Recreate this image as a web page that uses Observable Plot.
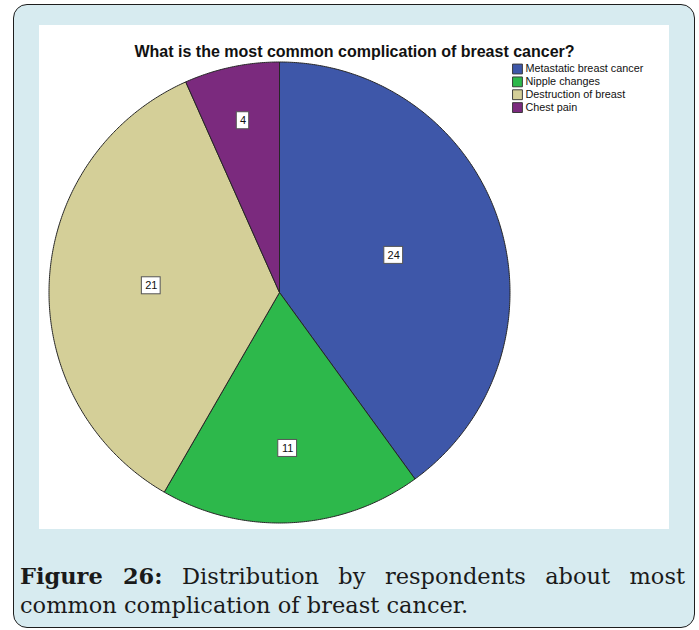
<!DOCTYPE html>
<html>
<head>
<meta charset="utf-8">
<script src="https://cdn.jsdelivr.net/npm/d3@7"></script>
<script src="https://cdn.jsdelivr.net/npm/@observablehq/plot@0.6"></script>
<style>
  html, body { margin: 0; padding: 0; background: #fff; }
  #frame {
    position: absolute; left: 13px; top: 4px; width: 680px; height: 622px;
    border: 1.5px solid #1e1e1e; border-radius: 14px; background: #d7ebf0;
  }
  #panel { position: absolute; left: 39px; top: 25px; width: 630px; height: 504px; background: #fff; }
  #chart { position: absolute; left: 0; top: 0; }
  #legend { position: absolute; left: 470px; top: 36px; }
  #caption {
    position: absolute; left: 20px; top: 562px; width: 665px;
    font-family: "DejaVu Serif", serif; font-size: 22.5px; line-height: 29px;
    text-align: justify; color: #1a1a1a;
  }
</style>
</head>
<body>
<div id="frame"></div>
<div id="panel"><div id="chart"></div><div id="legend"></div></div>
<div id="caption"><b>Figure 26:</b> Distribution by respondents about most common complication of breast cancer.</div>
<script>
// Survey answers: most common complication of breast cancer
const title = "What is the most common complication of breast cancer?";
const categories = ["Metastatic breast cancer", "Nipple changes", "Destruction of breast", "Chest pain"];
const counts = [24, 11, 21, 4];
const colors = ["#3e57a9", "#2db84b", "#d4cf98", "#7b2a7e"];

const rows = categories.map((cat, i) => ({cat, count: counts[i]}));

// Pie geometry in unit coordinates (radius 1, y pointing up), clockwise from 12 o'clock
const arcs = d3.pie().sort(null).value(d => d.count)(rows);
const step = Math.PI / 360;
const outline = arcs.flatMap(a => {
  const cat = a.data.cat;
  const pts = [{cat, x: 0, y: 0}];
  for (let t = a.startAngle; t < a.endAngle; t += step) pts.push({cat, x: Math.sin(t), y: Math.cos(t)});
  pts.push({cat, x: Math.sin(a.endAngle), y: Math.cos(a.endAngle)});
  pts.push({cat, x: 0, y: 0});
  return pts;
});

// Value labels: narrower slices get their label pushed further out
const R = 230.5, cx = 240, cy = 267;
const labels = arcs.map(a => {
  const half = (a.endAngle - a.startAngle) / 2;
  const mid = a.startAngle + half;
  const r = 0.81 - 0.23 * half;
  const text = String(a.data.count);
  const hw = (3 + 3.2 * text.length) / R, hh = 8.5 / R;
  const x = r * Math.sin(mid), y = r * Math.cos(mid);
  return {text, x, y, x1: x - hw, x2: x + hw, y1: y - hh, y2: y + hh};
});

const chart = Plot.plot({
  width: 630, height: 504, margin: 0,
  style: {fontFamily: "'Liberation Sans', Arial, sans-serif", background: "transparent", color: "#111"},
  x: {domain: [-1, 1], range: [cx - R, cx + R], axis: null},
  y: {domain: [-1, 1], range: [cy + R, cy - R], axis: null},
  color: {domain: categories, range: colors},
  marks: [
    Plot.line(outline, {x: "x", y: "y", z: "cat", fill: "cat", stroke: "#262626", strokeWidth: 1, strokeLinejoin: "round"}),
    Plot.rect(labels, {x1: "x1", x2: "x2", y1: "y1", y2: "y2", fill: "white", stroke: "#555", strokeWidth: 1}),
    Plot.text(labels, {x: "x", y: "y", text: "text", fontSize: 11, fill: "#111"}),
    Plot.text([title], {frameAnchor: "top", dy: 20, fontSize: 16, fontWeight: "bold", fill: "#111"})
  ]
});
document.getElementById("chart").append(chart);

// Legend: one row per category, evenly spaced by index
const legendRows = categories.map((cat, i) => ({cat, i}));
const legend = Plot.plot({
  width: 170, height: 60, margin: 0,
  style: {fontFamily: "'Liberation Sans', Arial, sans-serif", background: "transparent", color: "#111"},
  y: {domain: [0, categories.length - 1], range: [8, 49], axis: null},
  color: {domain: categories, range: colors},
  marks: [
    Plot.dot(legendRows, {y: "i", frameAnchor: "left", dx: 8.5, symbol: "square", r: 5.9, fill: "cat", stroke: "#333", strokeWidth: 1}),
    Plot.text(legendRows, {y: "i", text: "cat", frameAnchor: "left", dx: 17, textAnchor: "start", fontSize: 11.5, fill: "#111"})
  ]
});
document.getElementById("legend").append(legend);
</script>
</body>
</html>
